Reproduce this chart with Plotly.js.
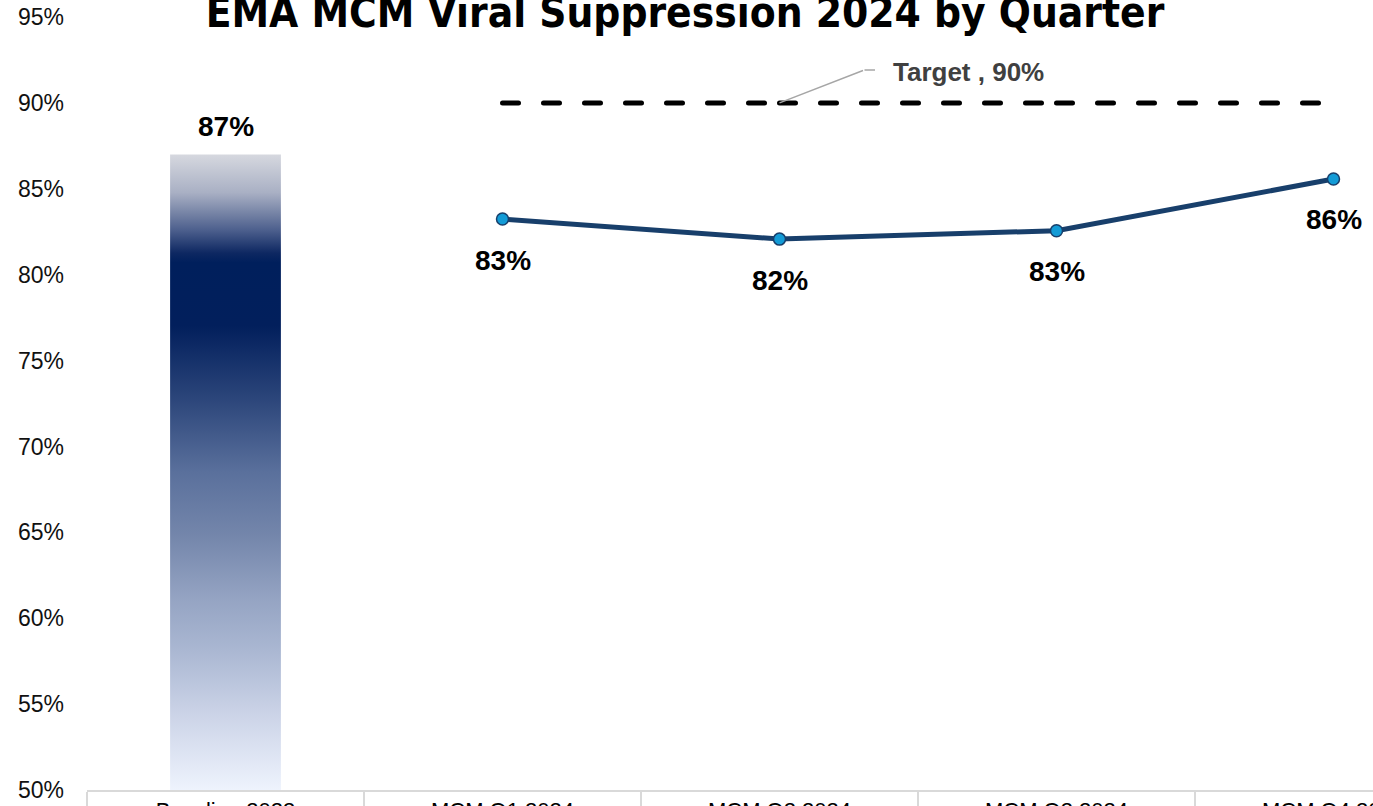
<!DOCTYPE html>
<html>
<head>
<meta charset="utf-8">
<script src="https://cdn.plot.ly/plotly-3.0.1.min.js"></script>
<style>
  html, body { margin: 0; padding: 0; width: 1373px; height: 806px; overflow: hidden; background: #fff; }
  #chart { position: absolute; left: 0; top: -40px; width: 1500px; height: 900px; }
  .js-line { stroke-linecap: round; }
</style>
</head>
<body>
<div id="chart"></div>
<script>
const categories = ['Baseline 2023', 'MCM Q1 2024', 'MCM Q2 2024', 'MCM Q3 2024', 'MCM Q4 2024'];
const baselineCats = ['Baseline 2023'];
const baselineValues = [87.0];
const quarterCats = ['MCM Q1 2024', 'MCM Q2 2024', 'MCM Q3 2024', 'MCM Q4 2024'];
const quarterValues = [83.24, 82.07, 82.56, 85.57];
const targetValues = [90, 90, 90, 90];
const targetLabel = 'Target , 90%';
const yTickVals = [50, 55, 60, 65, 70, 75, 80, 85, 90, 95];
const yTickText = ['50%', '55%', '60%', '65%', '70%', '75%', '80%', '85%', '90%', '95%'];
const yMin = 50, yMax = 95;
const titleText = 'EMA MCM Viral Suppression 2024 by Quarter';

const pct = v => Math.round(v) + '%';

const traces = [];
traces.push({
  type: 'bar', x: baselineCats, y: baselineValues.map(v => v - yMin), base: yMin,
  marker: { color: '#0f2a63', line: { width: 0 } }, hoverinfo: 'skip', showlegend: false
});
for (let i = 0; i < quarterCats.length - 1; i++) {
  traces.push({
    type: 'scatter', mode: 'lines', x: quarterCats.slice(i, i + 2), y: targetValues.slice(i, i + 2),
    line: { color: '#000000', width: 5, dash: '16px,25px' }, hoverinfo: 'skip', showlegend: false
  });
}
traces.push({
  type: 'scatter', mode: 'lines+markers', x: quarterCats, y: quarterValues,
  line: { color: '#183f6b', width: 5 },
  marker: { size: 12, color: '#139bd6', line: { color: '#183f6b', width: 1.5 } },
  hoverinfo: 'skip', showlegend: false
});

const labelFont = { family: 'Liberation Sans, Arial, sans-serif', size: 28, color: '#000000' };
const annotations = [];
baselineCats.forEach((c, i) => annotations.push({
  x: c, y: baselineValues[i], text: '<b>' + pct(baselineValues[i]) + '</b>', showarrow: false,
  yshift: 28, font: labelFont
}));
quarterCats.forEach((c, i) => annotations.push({
  x: c, y: quarterValues[i], text: '<b>' + pct(quarterValues[i]) + '</b>', showarrow: false,
  yshift: -41, font: labelFont
}));
// target callout with leader
annotations.push({
  x: quarterCats[1], y: targetValues[1], text: ' ', showarrow: true, arrowhead: 0,
  ax: 85, ay: -33, arrowcolor: '#a6a6a6', arrowwidth: 1.5, font: { size: 1 }
});
annotations.push({
  x: quarterCats[1], y: targetValues[1], xshift: 85, yshift: 33, text: ' ', showarrow: true, arrowhead: 0,
  ax: 12, ay: 0, arrowcolor: '#a6a6a6', arrowwidth: 1.5, font: { size: 1 }
});
annotations.push({
  x: quarterCats[1], y: targetValues[1], xshift: 189, yshift: 31, text: '<b>' + targetLabel + '</b>',
  showarrow: false, font: { family: 'Liberation Sans, Arial, sans-serif', size: 26, color: '#404040' }
});

const layout = {
  width: 1500, height: 900,
  margin: { l: 87, r: 28, t: 57, b: 70 },
  paper_bgcolor: '#ffffff', plot_bgcolor: '#ffffff',
  bargap: 0.6,
  title: {
    text: '<b>' + titleText + '</b>',
    font: { family: 'DejaVu Sans Condensed, DejaVu Sans, sans-serif', size: 42, color: '#000000', stretch: 'condensed' },
    x: 685 / 1500, xanchor: 'center', xref: 'container',
    y: 1 - 67 / 900, yanchor: 'bottom', yref: 'container'
  },
  xaxis: {
    type: 'category', categoryorder: 'array', categoryarray: categories,
    range: [-0.5, categories.length - 0.5],
    showline: true, linecolor: '#d9d9d9', linewidth: 2,
    ticks: 'outside', tickson: 'boundaries', ticklen: 40, tickcolor: '#d9d9d9', tickwidth: 2,
    ticklabelstandoff: 0,
    tickfont: { family: 'Liberation Sans, Arial, sans-serif', size: 22, color: '#000000' },
    showgrid: false, zeroline: false, fixedrange: true
  },
  yaxis: {
    range: [yMin, yMax], tickvals: yTickVals, ticktext: yTickText,
    showgrid: false, zeroline: false, showline: false, ticks: '',
    ticklabelstandoff: 22,
    tickfont: { family: 'Liberation Sans, Arial, sans-serif', size: 23, color: '#111111' },
    fixedrange: true
  },
  annotations: annotations
};

Plotly.newPlot('chart', traces, layout, { displayModeBar: false, staticPlot: true }).then(() => {
  const svg = document.querySelector('#chart .main-svg');
  const NS = 'http://www.w3.org/2000/svg';
  let defs = svg.querySelector('defs');
  if (!defs) { defs = document.createElementNS(NS, 'defs'); svg.insertBefore(defs, svg.firstChild); }
  const grad = document.createElementNS(NS, 'linearGradient');
  grad.setAttribute('id', 'barGrad');
  grad.setAttribute('x1', '0'); grad.setAttribute('y1', '0');
  grad.setAttribute('x2', '0'); grad.setAttribute('y2', '1');
  const stops = [
    [0.00, '#d6d8df'], [0.06, '#a9b0c4'], [0.12, '#4b5e8c'], [0.155, '#0e2862'],
    [0.17, '#001f5c'], [0.27, '#021f5c'], [0.38, '#2a4479'], [0.50, '#5a709c'],
    [0.60, '#7486ab'], [0.70, '#95a4c3'], [0.78, '#aab7d2'], [0.88, '#cbd3e7'], [1.00, '#eef3fd']
  ];
  stops.forEach(([o, c]) => {
    const s = document.createElementNS(NS, 'stop');
    s.setAttribute('offset', o); s.setAttribute('stop-color', c);
    grad.appendChild(s);
  });
  defs.appendChild(grad);
  document.querySelectorAll('#chart .barlayer .point path').forEach(p => {
    p.style.fill = 'url(#barGrad)';
  });
});
</script>
</body>
</html>
